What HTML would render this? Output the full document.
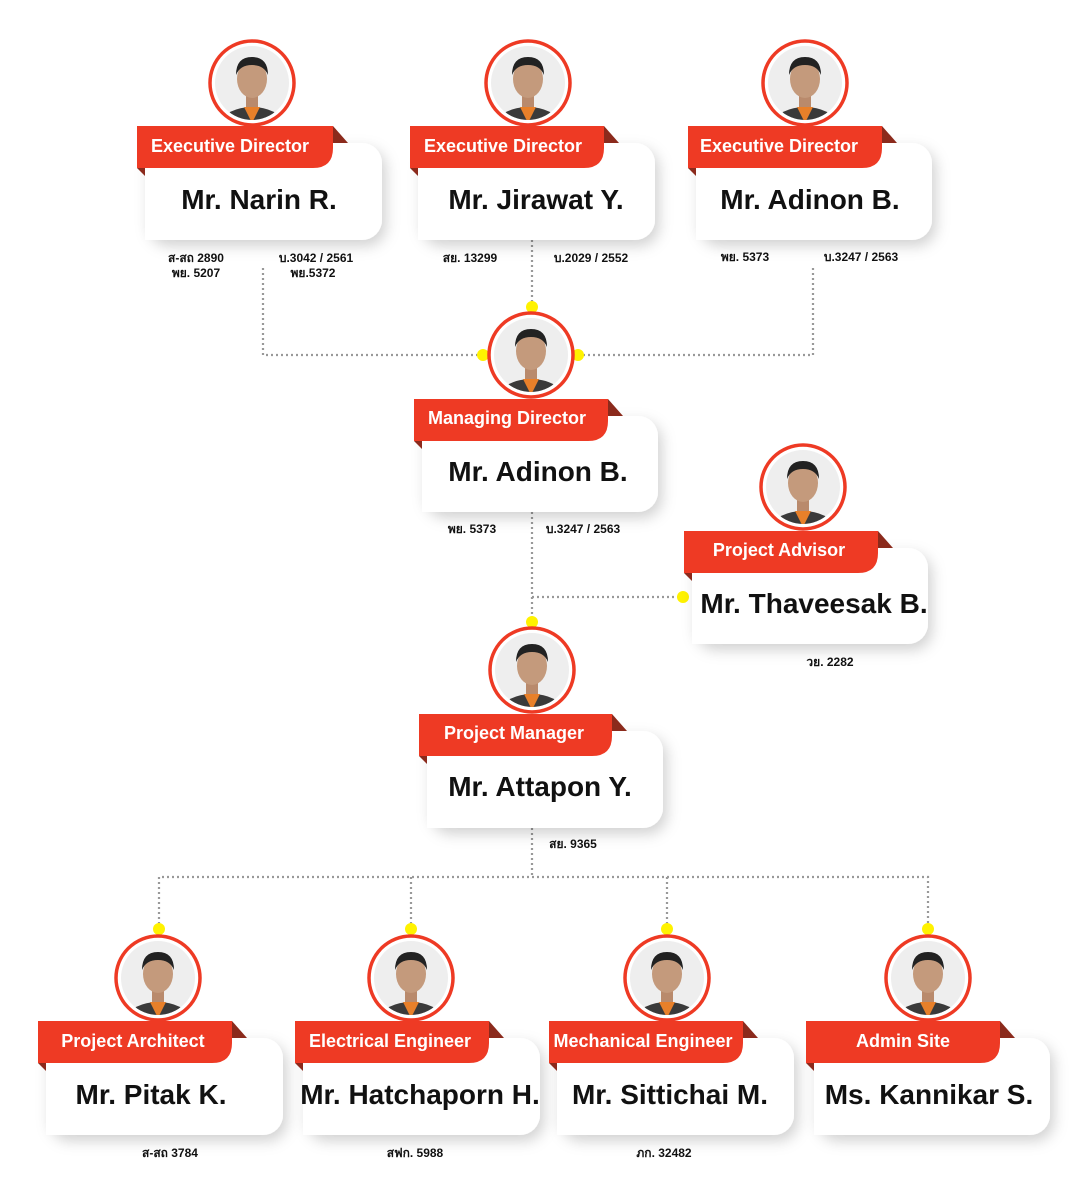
<!DOCTYPE html>
<html><head><meta charset="utf-8"><style>
html,body{margin:0;padding:0;background:#fff;width:1080px;height:1200px;overflow:hidden}
svg{display:block}
.t{font-family:"Liberation Sans","Noto Sans CJK SC","DejaVu Sans",sans-serif;font-weight:bold;fill:#fff;font-size:18px}
.n{font-family:"Liberation Sans","DejaVu Sans",sans-serif;font-weight:bold;fill:#111;font-size:28px}
.s{font-family:"Liberation Sans","DejaVu Sans",sans-serif;font-weight:bold;fill:#111;font-size:12px}
</style></head><body>
<svg width="1080" height="1200" viewBox="0 0 1080 1200" xmlns="http://www.w3.org/2000/svg">
<defs>
<filter id="sh" x="-20%" y="-30%" width="150%" height="170%"><feDropShadow dx="4" dy="6" stdDeviation="7" flood-color="#000" flood-opacity="0.18"/></filter>
<clipPath id="cp"><circle cx="0" cy="0" r="37"/></clipPath>
<g id="ph">
<circle r="42" fill="#fff" stroke="#ee3a24" stroke-width="3.5"/>
<g clip-path="url(#cp)">
<rect x="-40" y="-40" width="80" height="80" fill="#eeeeee"/>
<ellipse cx="0" cy="40" rx="30" ry="16" fill="#3a3a3a"/>
<path d="M-8,24 L0,40 L8,24 Z" fill="#e8802a"/>
<rect x="-6" y="8" width="12" height="16" fill="#b98a6c"/>
<ellipse cx="0" cy="-4" rx="15" ry="19" fill="#c49a7c"/>
<path d="M-16,-8 Q-16,-26 0,-26 Q16,-26 16,-8 Q12,-18 0,-18 Q-12,-18 -16,-8 Z" fill="#222"/>
</g>
</g>
</defs>

<g stroke="#999" stroke-width="2.2" stroke-dasharray="2 3" fill="none">
<path d="M263,268 V355 H483"/>
<path d="M578,355 H813 V268"/>
<path d="M532,240 V305"/>
<path d="M532,512 V622"/>
<path d="M532,597 H683"/>
<path d="M532,828 V877"/>
<path d="M159,929 V877 H928 V929"/>
<path d="M411,877 V929"/>
<path d="M667,877 V929"/>
</g>
<g fill="#fff200">
<circle cx="532" cy="307" r="6"/><circle cx="483" cy="355" r="6"/><circle cx="578" cy="355" r="6"/>
<circle cx="532" cy="622" r="6"/><circle cx="683" cy="597" r="6"/>
<circle cx="159" cy="929" r="6"/><circle cx="411" cy="929" r="6"/><circle cx="667" cy="929" r="6"/><circle cx="928" cy="929" r="6"/>
</g>

<g>
<rect x="145" y="143" width="237" height="97" rx="20" fill="#fff" filter="url(#sh)"/>
<rect x="145" y="143" width="30" height="97" fill="#fff"/>
<polygon points="333,126 348,143 333,143" fill="#8b2a1c"/><polygon points="137,168 145,168 145,176" fill="#8b2a1c"/>
<path d="M137,126 H333 V148 Q333,168 313,168 H137 Z" fill="#ee3a24"/>
<text class="t" x="230" y="152" text-anchor="middle">Executive Director</text>
<text class="n" x="259" y="209" text-anchor="middle">Mr. Narin R.</text>
<use href="#ph" x="252" y="83"/>

<rect x="418" y="143" width="237" height="97" rx="20" fill="#fff" filter="url(#sh)"/>
<rect x="418" y="143" width="30" height="97" fill="#fff"/>
<polygon points="604,126 619,143 604,143" fill="#8b2a1c"/><polygon points="410,168 418,168 418,176" fill="#8b2a1c"/>
<path d="M410,126 H604 V148 Q604,168 584,168 H410 Z" fill="#ee3a24"/>
<text class="t" x="503" y="152" text-anchor="middle">Executive Director</text>
<text class="n" x="536" y="209" text-anchor="middle">Mr. Jirawat Y.</text>
<use href="#ph" x="528" y="83"/>

<rect x="696" y="143" width="236" height="97" rx="20" fill="#fff" filter="url(#sh)"/>
<rect x="696" y="143" width="30" height="97" fill="#fff"/>
<polygon points="882,126 897,143 882,143" fill="#8b2a1c"/><polygon points="688,168 696,168 696,176" fill="#8b2a1c"/>
<path d="M688,126 H882 V148 Q882,168 862,168 H688 Z" fill="#ee3a24"/>
<text class="t" x="779" y="152" text-anchor="middle">Executive Director</text>
<text class="n" x="810" y="209" text-anchor="middle">Mr. Adinon B.</text>
<use href="#ph" x="805" y="83"/>

<rect x="422" y="416" width="236" height="96" rx="20" fill="#fff" filter="url(#sh)"/>
<rect x="422" y="416" width="30" height="96" fill="#fff"/>
<polygon points="608,399 623,416 608,416" fill="#8b2a1c"/><polygon points="414,441 422,441 422,449" fill="#8b2a1c"/>
<path d="M414,399 H608 V421 Q608,441 588,441 H414 Z" fill="#ee3a24"/>
<text class="t" x="507" y="424" text-anchor="middle">Managing Director</text>
<text class="n" x="538" y="481" text-anchor="middle">Mr. Adinon B.</text>
<use href="#ph" x="531" y="355"/>

<rect x="692" y="548" width="236" height="96" rx="20" fill="#fff" filter="url(#sh)"/>
<rect x="692" y="548" width="30" height="96" fill="#fff"/>
<polygon points="878,531 893,548 878,548" fill="#8b2a1c"/><polygon points="684,573 692,573 692,581" fill="#8b2a1c"/>
<path d="M684,531 H878 V553 Q878,573 858,573 H684 Z" fill="#ee3a24"/>
<text class="t" x="779" y="556" text-anchor="middle">Project Advisor</text>
<text class="n" x="814" y="613" text-anchor="middle">Mr. Thaveesak B.</text>
<use href="#ph" x="803" y="487"/>

<rect x="427" y="731" width="236" height="97" rx="20" fill="#fff" filter="url(#sh)"/>
<rect x="427" y="731" width="30" height="97" fill="#fff"/>
<polygon points="612,714 627,731 612,731" fill="#8b2a1c"/><polygon points="419,756 427,756 427,764" fill="#8b2a1c"/>
<path d="M419,714 H612 V736 Q612,756 592,756 H419 Z" fill="#ee3a24"/>
<text class="t" x="514" y="739" text-anchor="middle">Project Manager</text>
<text class="n" x="540" y="796" text-anchor="middle">Mr. Attapon Y.</text>
<use href="#ph" x="532" y="670"/>

<rect x="46" y="1038" width="237" height="97" rx="20" fill="#fff" filter="url(#sh)"/>
<rect x="46" y="1038" width="30" height="97" fill="#fff"/>
<polygon points="232,1021 247,1038 232,1038" fill="#8b2a1c"/><polygon points="38,1063 46,1063 46,1071" fill="#8b2a1c"/>
<path d="M38,1021 H232 V1043 Q232,1063 212,1063 H38 Z" fill="#ee3a24"/>
<text class="t" x="133" y="1047" text-anchor="middle">Project Architect</text>
<text class="n" x="151" y="1104" text-anchor="middle" font-size="24">Mr. Pitak K.</text>
<use href="#ph" x="158" y="978"/>

<rect x="303" y="1038" width="237" height="97" rx="20" fill="#fff" filter="url(#sh)"/>
<rect x="303" y="1038" width="30" height="97" fill="#fff"/>
<polygon points="489,1021 504,1038 489,1038" fill="#8b2a1c"/><polygon points="295,1063 303,1063 303,1071" fill="#8b2a1c"/>
<path d="M295,1021 H489 V1043 Q489,1063 469,1063 H295 Z" fill="#ee3a24"/>
<text class="t" x="390" y="1047" text-anchor="middle">Electrical Engineer</text>
<text class="n" x="420" y="1104" text-anchor="middle" font-size="24">Mr. Hatchaporn H.</text>
<use href="#ph" x="411" y="978"/>

<rect x="557" y="1038" width="237" height="97" rx="20" fill="#fff" filter="url(#sh)"/>
<rect x="557" y="1038" width="30" height="97" fill="#fff"/>
<polygon points="743,1021 758,1038 743,1038" fill="#8b2a1c"/><polygon points="549,1063 557,1063 557,1071" fill="#8b2a1c"/>
<path d="M549,1021 H743 V1043 Q743,1063 723,1063 H549 Z" fill="#ee3a24"/>
<text class="t" x="643" y="1047" text-anchor="middle">Mechanical Engineer</text>
<text class="n" x="670" y="1104" text-anchor="middle" font-size="24">Mr. Sittichai M.</text>
<use href="#ph" x="667" y="978"/>

<rect x="814" y="1038" width="236" height="97" rx="20" fill="#fff" filter="url(#sh)"/>
<rect x="814" y="1038" width="30" height="97" fill="#fff"/>
<polygon points="1000,1021 1015,1038 1000,1038" fill="#8b2a1c"/><polygon points="806,1063 814,1063 814,1071" fill="#8b2a1c"/>
<path d="M806,1021 H1000 V1043 Q1000,1063 980,1063 H806 Z" fill="#ee3a24"/>
<text class="t" x="903" y="1047" text-anchor="middle">Admin Site</text>
<text class="n" x="929" y="1104" text-anchor="middle" font-size="24">Ms. Kannikar S.</text>
<use href="#ph" x="928" y="978"/>
</g>

<g>
<text class="s" x="196" y="262" text-anchor="middle">ส-สถ 2890</text>
<text class="s" x="196" y="277" text-anchor="middle">พย. 5207</text>
<text class="s" x="316" y="262" text-anchor="middle">บ.3042 / 2561</text>
<text class="s" x="313" y="277" text-anchor="middle">พย.5372</text>
<text class="s" x="470" y="262" text-anchor="middle">สย. 13299</text>
<text class="s" x="591" y="262" text-anchor="middle">บ.2029 / 2552</text>
<text class="s" x="745" y="261" text-anchor="middle">พย. 5373</text>
<text class="s" x="861" y="261" text-anchor="middle">บ.3247 / 2563</text>
<text class="s" x="472" y="533" text-anchor="middle">พย. 5373</text>
<text class="s" x="583" y="533" text-anchor="middle">บ.3247 / 2563</text>
<text class="s" x="830" y="666" text-anchor="middle">วย. 2282</text>
<text class="s" x="573" y="848" text-anchor="middle">สย. 9365</text>
<text class="s" x="170" y="1157" text-anchor="middle">ส-สถ 3784</text>
<text class="s" x="415" y="1157" text-anchor="middle">สฟก. 5988</text>
<text class="s" x="664" y="1157" text-anchor="middle">ภก. 32482</text>
</g>
</svg>
</body></html>
